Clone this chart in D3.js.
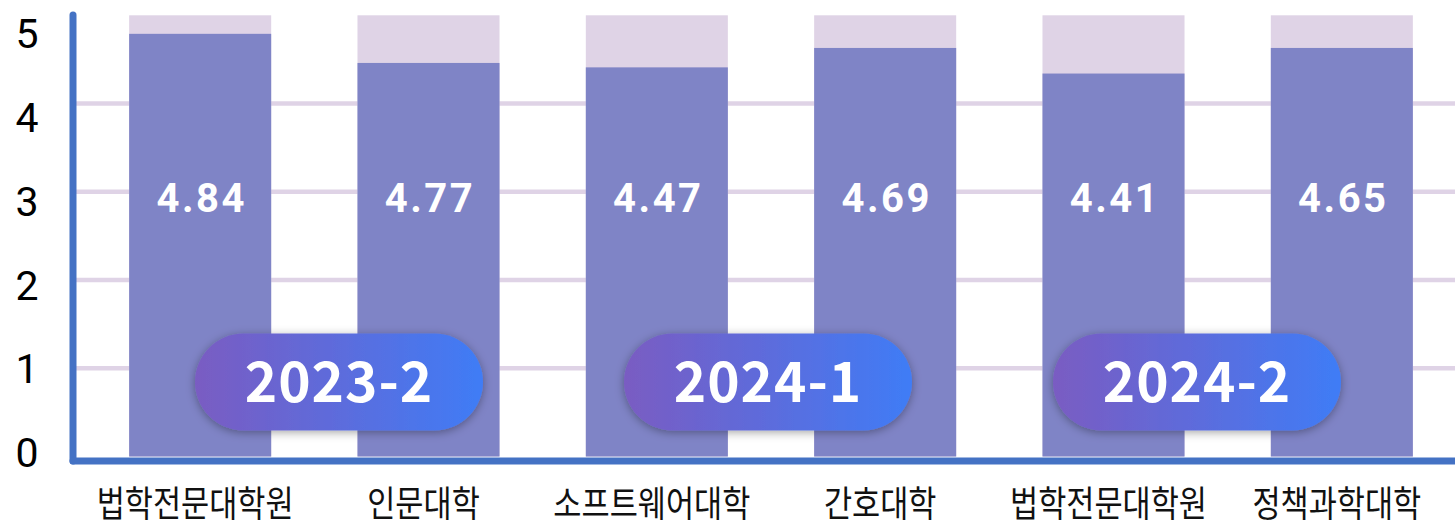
<!DOCTYPE html>
<html>
<head>
<meta charset="utf-8">
<script src="https://cdn.jsdelivr.net/npm/d3@7"></script>
<style>
  html, body { margin: 0; padding: 0; background: #fff; }
  svg { display: block; }
</style>
</head>
<body>
<div id="chart"></div>
<script>
// data
const categories = ['법학전문대학원', '인문대학', '소프트웨어대학', '간호대학', '법학전문대학원', '정책과학대학'];
const scores = [4.84, 4.77, 4.47, 4.69, 4.41, 4.65];      // printed labels
const barHeights = [4.79, 4.46, 4.41, 4.63, 4.34, 4.63];  // drawn heights
const maxScore = 5;
const yTicks = [0, 1, 2, 3, 4, 5];
const periods = ['2023-2', '2024-1', '2024-2'];

const width = 1455, height = 527;

const svg = d3.select('#chart')
    .append('svg')
    .attr('width', width)
    .attr('height', height);

const defs = svg.append('defs');
const grad = defs.append('linearGradient')
    .attr('id', 'pillGrad')
    .attr('x1', '0%').attr('x2', '100%').attr('y1', '0%').attr('y2', '0%');
grad.append('stop').attr('offset', '0%').attr('stop-color', '#7a5cc2');
grad.append('stop').attr('offset', '100%').attr('stop-color', '#3f7cf6');

defs.append('filter')
    .attr('id', 'pillShadow')
    .attr('x', '-20%').attr('y', '-40%').attr('width', '140%').attr('height', '180%')
    .append('feDropShadow')
    .attr('dx', 0).attr('dy', 2)
    .attr('stdDeviation', 5)
    .attr('flood-color', '#000')
    .attr('flood-opacity', 0.35);

// scales
const x = d3.scaleBand()
    .domain(d3.range(categories.length))
    .range([86, 1456])
    .paddingInner(0.378)
    .paddingOuter(0.189);

const y = d3.scaleLinear()
    .domain([0, maxScore])
    .range([456.5, 15.3]);

// tick labels sit on a slightly tighter spacing than the grid
const yLabel = d3.scaleLinear()
    .domain([0, maxScore])
    .range([452.5, 33.5]);

const pillX = d3.scalePoint()
    .domain(periods)
    .range([339, 1197]);

// grid lines
svg.append('g')
    .selectAll('line')
    .data(yTicks.filter(d => d > 0 && d < maxScore))
    .join('line')
    .attr('x1', 76).attr('x2', width)
    .attr('y1', d => y(d)).attr('y2', d => y(d))
    .attr('stroke', '#dfd3e6')
    .attr('stroke-width', 4.5);

// background bars (full scale)
svg.append('g')
    .selectAll('rect')
    .data(categories)
    .join('rect')
    .attr('x', (d, i) => x(i))
    .attr('width', x.bandwidth())
    .attr('y', y(maxScore))
    .attr('height', y(0) - y(maxScore))
    .attr('fill', '#dfd3e6');

// value bars
svg.append('g')
    .selectAll('rect')
    .data(barHeights)
    .join('rect')
    .attr('x', (d, i) => x(i))
    .attr('width', x.bandwidth())
    .attr('y', d => y(d))
    .attr('height', d => y(0) - y(d))
    .attr('fill', '#7f84c6');

// value labels
svg.append('g')
    .selectAll('text')
    .data(scores)
    .join('text')
    .attr('x', (d, i) => x(i) + x.bandwidth() / 2 + 1.5)
    .attr('y', 212)
    .attr('text-anchor', 'middle')
    .attr('fill', '#fff')
    .style('font-family', 'Roboto, sans-serif')
    .style('font-weight', 700)
    .style('font-size', '40px')
    .style('letter-spacing', '2.5px')
    .text(d => d.toFixed(2));

// axes
svg.append('line')
    .attr('x1', 73).attr('x2', 73)
    .attr('y1', 15).attr('y2', 461)
    .attr('stroke', '#4472c4')
    .attr('stroke-width', 7)
    .attr('stroke-linecap', 'round');

svg.append('line')
    .attr('x1', 73).attr('x2', width + 10)
    .attr('y1', 461).attr('y2', 461)
    .attr('stroke', '#4472c4')
    .attr('stroke-width', 7)
    .attr('stroke-linecap', 'round');

// y tick labels
svg.append('g')
    .selectAll('text')
    .data(yTicks)
    .join('text')
    .attr('x', 27)
    .attr('y', d => yLabel(d))
    .attr('dy', '0.36em')
    .attr('text-anchor', 'middle')
    .attr('fill', '#000')
    .style('font-family', 'Roboto, sans-serif')
    .style('font-size', '41px')
    .text(d => d);

// category labels
svg.append('g')
    .selectAll('text')
    .data(categories)
    .join('text')
    .attr('transform', (d, i) => `translate(${x(i) + x.bandwidth() / 2 - 5},517) scale(0.85,1)`)
    .attr('text-anchor', 'middle')
    .attr('fill', '#111')
    .style('font-family', '"Noto Sans CJK KR", sans-serif')
    .style('font-size', '36px')
    .text(d => d);

// period pills
const pillW = 288, pillH = 97;
const pills = svg.append('g')
    .selectAll('g')
    .data(periods)
    .join('g')
    .attr('transform', d => `translate(${pillX(d)},382)`);

pills.append('rect')
    .attr('x', -pillW / 2).attr('y', -pillH / 2)
    .attr('width', pillW).attr('height', pillH)
    .attr('rx', pillH / 2)
    .attr('fill', 'url(#pillGrad)')
    .attr('filter', 'url(#pillShadow)');

pills.append('text')
    .attr('y', 20)
    .attr('text-anchor', 'middle')
    .attr('fill', '#fff')
    .style('font-family', '"Noto Sans CJK KR", "Noto Sans", sans-serif')
    .style('font-weight', 700)
    .style('font-size', '55px')
    .style('letter-spacing', '1px')
    .text(d => d);
</script>
</body>
</html>
